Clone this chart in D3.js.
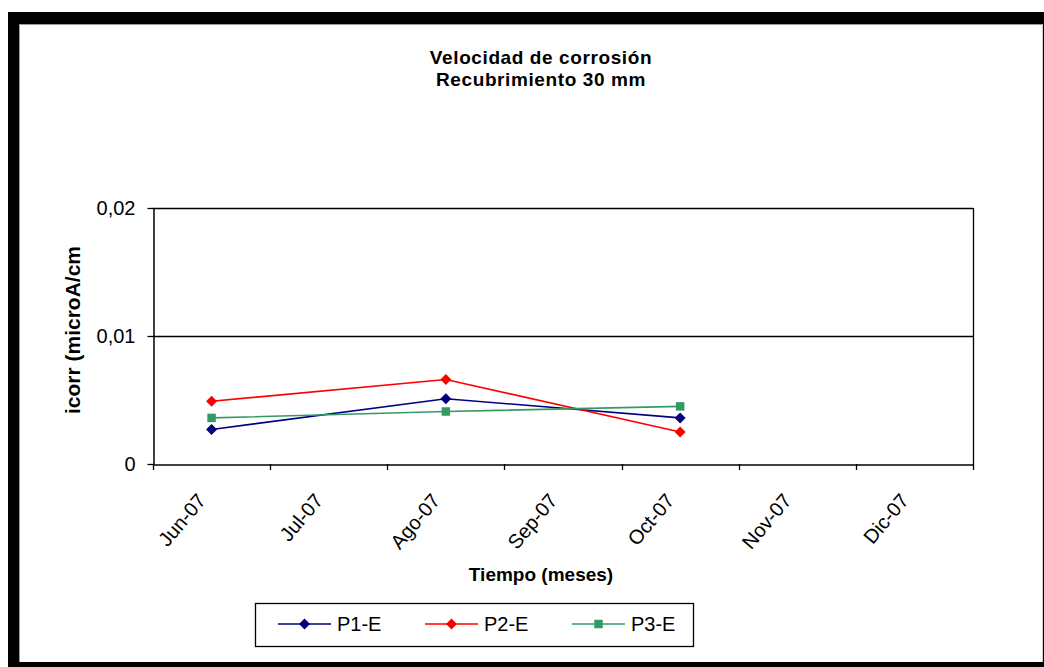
<!DOCTYPE html>
<html>
<head>
<meta charset="utf-8">
<script src="https://cdn.jsdelivr.net/npm/d3@7"></script>
<style>
  html, body { margin: 0; padding: 0; background: #fff; }
  svg { display: block; }
  text { font-family: Arial, "Liberation Sans", sans-serif; fill: #000; }
</style>
</head>
<body>
<svg id="chart" width="1044" height="667"></svg>
<script>
// ---- data ----
const categories = ["Jun-07", "Jul-07", "Ago-07", "Sep-07", "Oct-07", "Nov-07", "Dic-07"];
const sampleDates = ["Jun-07", "Ago-07", "Oct-07"];
const p1Values = [0.0027, 0.0051, 0.0036];
const p2Values = [0.0049, 0.0066, 0.0025];
const p3Values = [0.0036, 0.0041, 0.0045];
const seriesNames = ["P1-E", "P2-E", "P3-E"];
const yTickValues = [0, 0.01, 0.02];
const yTickLabels = ["0", "0,01", "0,02"];
const titleLines = ["Velocidad de corrosión", "Recubrimiento 30 mm"];
const xTitle = "Tiempo (meses)";
const yTitle = "icorr (microA/cm";

// custom equal-sided diamond symbol
const diamond = { draw(ctx, size) { const r = Math.sqrt(size / 2); ctx.moveTo(0, -r); ctx.lineTo(r, 0); ctx.lineTo(0, r); ctx.lineTo(-r, 0); ctx.closePath(); } };

const series = [
  { name: seriesNames[0], values: p1Values, color: "#000080", symbol: diamond, size: 60 },
  { name: seriesNames[1], values: p2Values, color: "#FF0000", symbol: diamond, size: 60 },
  { name: seriesNames[2], values: p3Values, color: "#339966", symbol: d3.symbolSquare, size: 72 }
];

const svg = d3.select("#chart");

// ---- frame ----
svg.append("rect").attr("x", 8).attr("y", 12).attr("width", 1036).attr("height", 655).attr("fill", "#000");
svg.append("rect").attr("x", 19).attr("y", 24).attr("width", 1024).attr("height", 638).attr("fill", "#fff");
svg.append("path").attr("d", "M19.5,662 V24.5 H1043").attr("stroke", "#999").attr("fill", "none");
svg.append("line").attr("x1", 1042.5).attr("x2", 1042.5).attr("y1", 24).attr("y2", 662).attr("stroke", "#ccc");

// ---- scales ----
const plot = { left: 153, right: 973, top: 208, bottom: 464 };
const x = d3.scaleBand().domain(categories).range([plot.left, plot.right]).padding(0);
const y = d3.scaleLinear().domain([0, 0.02]).range([plot.bottom, plot.top]);

// ---- gridlines ----
svg.append("g").selectAll("line").data(yTickValues.filter(v => v > 0)).join("line")
  .attr("x1", plot.left).attr("x2", plot.right)
  .attr("y1", d => Math.round(y(d)) + 0.5).attr("y2", d => Math.round(y(d)) + 0.5)
  .attr("stroke", "#000").attr("stroke-width", 1.3);
// right border
svg.append("line").attr("x1", plot.right + 0.5).attr("x2", plot.right + 0.5)
  .attr("y1", plot.top).attr("y2", plot.bottom).attr("stroke", "#000").attr("stroke-width", 1.3);

// ---- y axis ----
const yAxis = d3.axisLeft(y).tickValues(yTickValues)
  .tickFormat((d, i) => yTickLabels[i]).tickSize(6).tickSizeOuter(0).tickPadding(12);
const gy = svg.append("g").attr("transform", `translate(${plot.left + 0.5},0)`).call(yAxis);
gy.select(".domain").attr("stroke", "#000").attr("stroke-width", 1.5);
gy.selectAll(".tick line").attr("stroke", "#000").attr("stroke-width", 1.3);
gy.selectAll(".tick text").attr("font-size", 20).attr("font-family", "Arial, 'Liberation Sans', sans-serif").attr("fill", "#222");

// ---- x axis ----
const xAxis = d3.axisBottom(x).tickSize(0).tickSizeOuter(0).tickFormat(d => d);
const gx = svg.append("g").attr("transform", `translate(0,${plot.bottom + 0.5})`).call(xAxis);
gx.select(".domain").attr("stroke", "#000").attr("stroke-width", 1.5);
gx.selectAll(".tick text")
  .attr("font-size", 20).attr("font-family", "Arial, 'Liberation Sans', sans-serif")
  .attr("fill", "#111")
  .attr("text-anchor", "end")
  .attr("dy", "0.35em").attr("y", 0)
  .attr("transform", "translate(-10,32) rotate(-50)");
// boundary tick marks
const boundaries = categories.map(c => x(c)).concat([x(categories[categories.length - 1]) + x.bandwidth()]);
svg.append("g").selectAll("line").data(boundaries).join("line")
  .attr("x1", d => Math.round(d) + 0.5).attr("x2", d => Math.round(d) + 0.5)
  .attr("y1", plot.bottom).attr("y2", plot.bottom + 6)
  .attr("stroke", "#000").attr("stroke-width", 1.3);

// ---- series ----
series.forEach(s => {
  const pts = sampleDates.map((d, i) => ({ cat: d, v: s.values[i] }));
  const line = d3.line().x(d => x(d.cat) + x.bandwidth() / 2).y(d => y(d.v));
  svg.append("path").datum(pts).attr("d", line)
    .attr("fill", "none").attr("stroke", s.color).attr("stroke-width", 1.6);
  svg.append("g").selectAll("path").data(pts).join("path")
    .attr("d", d3.symbol().type(s.symbol).size(s.size))
    .attr("transform", d => `translate(${x(d.cat) + x.bandwidth() / 2},${y(d.v)})`)
    .attr("fill", s.color);
});

// ---- titles ----
titleLines.forEach((t, i) => svg.append("text")
  .attr("x", 541).attr("y", 64 + i * 22)
  .attr("text-anchor", "middle").attr("font-weight", "bold").attr("font-size", 19)
  .attr("letter-spacing", 0.6).text(t));

svg.append("text").attr("x", 541).attr("y", 581).attr("text-anchor", "middle")
  .attr("font-weight", "bold").attr("font-size", 19).text(xTitle);

svg.append("text").attr("transform", "translate(80,330) rotate(-90)").attr("text-anchor", "middle")
  .attr("font-weight", "bold").attr("font-size", 21).text(yTitle);

// ---- legend ----
const legend = svg.append("g");
legend.append("rect").attr("x", 255.5).attr("y", 603.5).attr("width", 438).attr("height", 43)
  .attr("fill", "#fff").attr("stroke", "#000").attr("stroke-width", 1.3);
const legX = [278, 425, 572];
series.forEach((s, i) => {
  const g = legend.append("g").attr("transform", `translate(${legX[i]},624)`);
  g.append("line").attr("x1", 0).attr("x2", 53).attr("y1", 0).attr("y2", 0)
    .attr("stroke", s.color).attr("stroke-width", 1.5);
  g.append("path").attr("d", d3.symbol().type(s.symbol).size(s.size))
    .attr("transform", "translate(26.5,0)").attr("fill", s.color);
  g.append("text").attr("x", 59).attr("y", 7).attr("font-size", 20).text(s.name);
});
</script>
</body>
</html>
